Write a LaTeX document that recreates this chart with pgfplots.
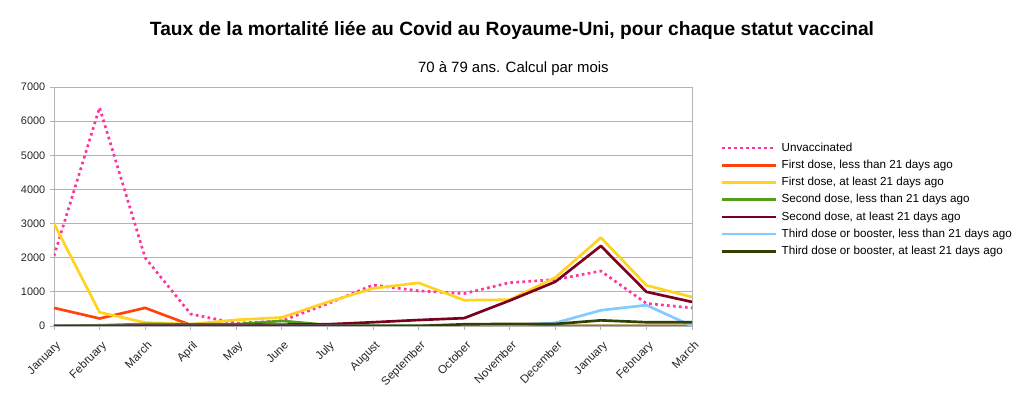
\documentclass[border=0pt]{standalone}
\usepackage{pgfplots}
\pgfplotsset{compat=1.18}
\usepackage{fontspec}
\setmainfont{Liberation Sans}
\definecolor{cUnv}{HTML}{FF3399}
\definecolor{cF1}{HTML}{FF420E}
\definecolor{cF2}{HTML}{FFD320}
\definecolor{cS1}{HTML}{579D1C}
\definecolor{cS2}{HTML}{7E0021}
\definecolor{cT1}{HTML}{83CAFF}
\definecolor{cT2}{HTML}{314004}
\definecolor{gridc}{HTML}{B3B3B3}
\begin{document}
\begin{tikzpicture}
\path[use as bounding box] (0pt,0pt) rectangle (768pt,298.5pt);
\node[font=\bfseries\fontsize{14.4}{16}\selectfont] at (384pt,276pt) {Taux de la mortalité liée au Covid au Royaume-Uni, pour chaque statut vaccinal};
\node[font=\fontsize{11.2}{13}\selectfont] at (385pt,247pt) {70 à 79 ans. Calcul par mois};
\begin{axis}[
  at={(40.5pt,54pt)}, anchor=south west,
  scale only axis,
  width=478.5pt, height=179.25pt,
  xmin=0, xmax=14, ymin=0, ymax=7000,
  xtick={0,...,14},
  xticklabels={January,February,March,April,May,June,July,August,September,October,November,December,January,February,March},
  xticklabel style={rotate=45, anchor=north east, font=\fontsize{8.7}{10}\selectfont, text=black!85, inner sep=1pt, xshift=-3.5pt, yshift=-5pt},
  ytick={0,1000,...,7000},
  yticklabel style={font=\fontsize{8.2}{9}\selectfont, text=black!85},
  /pgf/number format/assume math mode=true,
  /pgf/number format/1000 sep={},
  scaled y ticks=false,
  ymajorgrids, grid style={gridc, line width=0.6pt},
  axis line style={gridc, line width=0.6pt},
  tick style={gridc, line width=0.6pt},
  tick align=outside, major tick length=3pt,
  xtick pos=bottom, ytick pos=left,
  legend cell align=left,
  legend style={at={(1.045,0.774)}, anchor=north west, draw=none, fill=none,
    font=\fontsize{8.75}{10}\selectfont, row sep=2.6pt, column sep=2.5pt, inner sep=0pt,
    nodes={inner sep=1pt, text height=6.5pt, text depth=1.8pt}},
  legend image code/.code={\draw[#1, line width=2pt] (0pt,0pt) -- (40pt,0pt);},
  every axis plot/.append style={line width=2pt, line join=round},
]
\addplot[cUnv, dash pattern=on 2pt off 2.5pt] coordinates {(0,2050)(1,6400)(2,2000)(3,350)(4,80)(5,150)(6,650)(7,1200)(8,1030)(9,950)(10,1270)(11,1360)(12,1610)(13,660)(14,530)};
\addlegendentry{Unvaccinated}
\addplot[cF1] coordinates {(0,530)(1,220)(2,530)(3,30)(4,10)(5,10)(6,5)(7,0)(8,0)(9,0)(10,0)(11,0)(12,0)(13,0)(14,0)};
\addlegendentry{First dose, less than 21 days ago}
\addplot[cF2] coordinates {(0,3000)(1,400)(2,100)(3,50)(4,180)(5,250)(6,700)(7,1100)(8,1265)(9,755)(10,770)(11,1420)(12,2590)(13,1190)(14,850)};
\addlegendentry{First dose, at least 21 days ago}
\addplot[cS1] coordinates {(0,0)(1,20)(2,60)(3,50)(4,50)(5,150)(6,30)(7,10)(8,5)(9,0)(10,0)(11,0)(12,0)(13,0)(14,0)};
\addlegendentry{Second dose, less than 21 days ago}
\addplot[cS2] coordinates {(0,0)(1,0)(2,20)(3,30)(4,30)(5,40)(6,50)(7,110)(8,175)(9,230)(10,745)(11,1295)(12,2345)(13,1000)(14,705)};
\addlegendentry{Second dose, at least 21 days ago}
\addplot[cT1] coordinates {(0,0)(1,0)(2,0)(3,0)(4,0)(5,0)(6,0)(7,0)(8,0)(9,0)(10,20)(11,90)(12,460)(13,610)(14,0)};
\addlegendentry{Third dose or booster, less than 21 days ago}
\addplot[cT2] coordinates {(0,0)(1,0)(2,0)(3,0)(4,0)(5,0)(6,0)(7,0)(8,0)(9,50)(10,60)(11,60)(12,165)(13,110)(14,110)};
\addlegendentry{Third dose or booster, at least 21 days ago}
\end{axis}
\end{tikzpicture}
\end{document}
